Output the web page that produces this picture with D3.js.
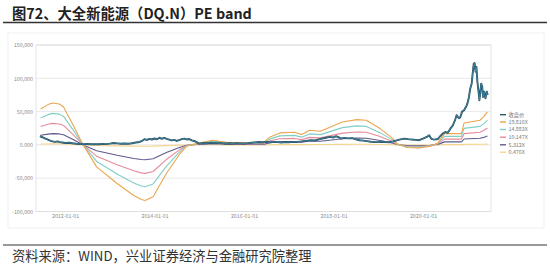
<!DOCTYPE html>
<html><head><meta charset="utf-8">
<script src="https://cdn.jsdelivr.net/npm/d3@7"></script>
<style>
html,body{margin:0;padding:0;background:#fff;}
svg{display:block;}
</style></head>
<body>
<svg id="c" width="550" height="267"></svg>
<script>
const titleText = "图72、大全新能源（DQ.N）PE band";
const sourceText = "资料来源：WIND，兴业证券经济与金融研究院整理";
const xTickDates = ["2012-01-01","2014-01-01","2016-01-01","2018-01-01","2020-01-01"];
const yTickValues = [150000,100000,50000,0,-50000,-100000];
const yTickLabels = ["150,000","100,000","50,000","0.000","-50,000","-100,000"];
const seriesNames = ["收盘价","19.816X","14.883X","10.147X","5.312X","0.476X"];
const seriesColors = ["#34758f","#eba64e","#7fcfc6","#e58b9b","#5e5b8d","#f4d58c"];

const bandDates = ["2011-06-15","2011-08-15","2011-09-20","2011-11-15","2011-12-20","2012-03-15","2012-05-28","2012-09-15","2013-03-01","2013-07-15","2013-09-15","2013-10-15","2013-12-20","2014-04-07","2014-07-28","2014-09-20","2014-12-10","2015-04-20","2015-08-15","2016-01-15","2016-06-15","2016-08-01","2016-10-20","2017-02-15","2017-04-15","2017-06-20","2017-09-15","2018-03-15","2018-07-10","2018-09-25","2019-01-15","2019-05-01","2019-06-01","2019-08-20","2019-12-01","2020-03-01","2020-05-01","2020-06-25","2020-11-10","2020-12-01","2021-04-10","2021-05-10","2021-06-10"];
const band19816 = [54000,60500,63000,61500,57000,27000,0,-33000,-58000,-76000,-82000,-83500,-78000,-43000,-13000,-2000,2000,7000,4000,3000,4400,12000,18000,19000,15500,22000,20500,34500,38000,37000,24500,9500,2000,-4000,-4500,-2000,3000,17000,17000,33000,37000,42000,49600];
const band14883 = [40560,45440,47320,46190,42810,20280,0,-24790,-43560,-57080,-61590,-62720,-58590,-32300,-9760,-1500,1500,5260,3000,2250,3300,9010,13520,14270,11640,16520,15400,25910,28540,27790,18400,7140,1500,-3000,-3380,-1500,2250,12770,12770,24790,27790,31550,37250];
const band10147 = [27650,30980,32260,31490,29190,13830,0,-16900,-29700,-38920,-41990,-42760,-39940,-22020,-6660,-1020,1020,3580,2050,1540,2250,6150,9220,9730,7940,11270,10500,17670,19460,18950,12550,4860,1020,-2050,-2300,-1020,1540,8710,8710,16900,18950,21510,25400];
const band5312 = [14480,16220,16890,16490,15280,7240,0,-8850,-15550,-20380,-21980,-22390,-20910,-11530,-3490,-540,540,1880,1070,800,1180,3220,4830,5090,4160,5900,5500,9250,10190,9920,6570,2550,540,-1070,-1210,-540,800,4560,4560,8850,9920,11260,13300];
const band0476 = [1300,1450,1510,1480,1370,650,0,-790,-1390,-1830,-1970,-2010,-1870,-1030,-310,-50,50,170,100,70,110,290,430,460,370,530,490,830,910,890,590,230,50,-100,-110,-50,70,410,410,790,890,1010,1190];

const priceDates = ["2011-06-10","2011-07-01","2011-07-20","2011-08-10","2011-09-01","2011-09-20","2011-10-10","2011-11-01","2011-11-20","2011-12-10","2012-01-01","2012-02-01","2012-03-01","2012-04-01","2012-05-01","2012-06-01","2012-07-01","2012-08-01","2012-09-01","2012-10-01","2012-11-01","2012-12-01","2013-01-01","2013-02-01","2013-03-01","2013-04-01","2013-05-01","2013-06-01","2013-07-01","2013-08-01","2013-09-01","2013-09-20","2013-10-10","2013-11-01","2013-11-20","2013-12-10","2014-01-01","2014-01-20","2014-02-10","2014-03-01","2014-03-20","2014-04-10","2014-05-01","2014-05-20","2014-06-10","2014-07-01","2014-07-20","2014-08-10","2014-09-01","2014-09-20","2014-10-10","2014-11-01","2014-11-20","2014-12-10","2015-01-01","2015-02-01","2015-03-01","2015-04-01","2015-05-01","2015-06-01","2015-07-01","2015-08-01","2015-09-01","2015-10-01","2015-11-01","2015-12-01","2016-01-01","2016-02-01","2016-03-01","2016-04-01","2016-05-01","2016-06-01","2016-07-01","2016-08-01","2016-09-01","2016-10-01","2016-11-01","2016-12-01","2017-01-01","2017-02-01","2017-03-01","2017-04-01","2017-05-01","2017-06-01","2017-07-01","2017-08-01","2017-09-01","2017-10-01","2017-11-01","2017-12-01","2018-01-01","2018-01-20","2018-02-10","2018-03-01","2018-04-01","2018-05-01","2018-06-01","2018-07-01","2018-08-01","2018-09-01","2018-10-01","2018-11-01","2018-12-01","2019-01-01","2019-02-01","2019-03-01","2019-04-01","2019-05-01","2019-06-01","2019-07-01","2019-08-01","2019-09-01","2019-10-01","2019-11-01","2019-12-01","2020-01-01","2020-02-01","2020-02-20","2020-03-10","2020-04-01","2020-05-01","2020-05-20","2020-06-10","2020-07-01","2020-07-20","2020-08-10","2020-09-01","2020-09-20","2020-10-01","2020-10-20","2020-11-01","2020-11-15","2020-12-01","2020-12-20","2021-01-01","2021-01-10","2021-01-20","2021-02-01","2021-02-10","2021-02-18","2021-02-25","2021-03-05","2021-03-12","2021-03-20","2021-03-28","2021-04-05","2021-04-12","2021-04-20","2021-04-28","2021-05-05","2021-05-15","2021-05-25","2021-06-05","2021-06-12"];
const priceValues = [13000,11500,9800,8200,6500,5200,4600,5200,4100,3600,2900,3300,2400,1800,1400,1100,1300,900,1200,1000,1400,1200,1900,2900,2300,1700,2100,1800,2500,3600,4400,5900,8600,7400,9000,8100,9600,8400,10800,9200,10400,9000,8000,6800,7500,5900,7200,8600,9500,8200,8800,6800,5900,4200,2000,2800,2400,3300,2800,3500,2600,2200,2500,2000,2600,2300,2000,2600,3300,3800,4400,3900,4500,4000,4600,4100,3700,4300,4000,4600,4200,4900,5600,6400,7200,6600,8400,9600,10800,12000,11200,13000,11600,9600,10600,9800,10200,8400,7000,6400,5600,4800,4400,4200,4800,4300,4000,5200,6800,8200,9500,8600,8000,7600,7000,9400,12000,14500,9000,8000,8800,13000,17000,19400,18000,24000,29500,38000,44600,40000,42000,50000,52000,58000,64600,72000,84000,92000,108000,122000,123000,110000,117000,95000,82000,67000,78000,92000,88000,72000,80000,70000,80000,75000];

const parse = d3.timeParse("%Y-%m-%d");
const svg = d3.select("#c");
const font = "'Noto Sans CJK SC','Noto Sans',sans-serif";

// title
const t = svg.append("text").attr("x",12).attr("y",18.5)
  .attr("font-family",font).attr("font-weight","bold").attr("font-size",14)
  .attr("fill","#222").text(titleText);
let tw = t.node().getComputedTextLength();
t.attr("font-size", 14*240/tw);
svg.append("line").attr("x1",3).attr("x2",547).attr("y1",22.5).attr("y2",22.5)
  .attr("stroke","#333").attr("stroke-width",1.5);

// panel faint border
svg.append("rect").attr("x",8).attr("y",33).attr("width",536).attr("height",195)
  .attr("fill","none").attr("stroke","#f1f1f1");

const x = d3.scaleTime().domain([new Date(2011,4,9), new Date(2021,6,9)]).range([36,491]);
const y = d3.scaleLinear().domain([-100000,150000]).range([211.5,45]);

// grid
svg.append("g").selectAll("line").data(yTickValues).join("line")
  .attr("x1",36).attr("x2",491).attr("y1",d=>y(d)).attr("y2",d=>y(d))
  .attr("stroke","#e2e2e2").attr("stroke-width",0.8);
svg.append("rect").attr("x",36).attr("y",45).attr("width",455).attr("height",166.5)
  .attr("fill","none").attr("stroke","#dcdcdc").attr("stroke-width",0.8);

// y axis labels
const yAxis = d3.axisLeft(y).tickValues(yTickValues).tickSize(0).tickPadding(3)
  .tickFormat((d,i)=>yTickLabels[i]);
const gy = svg.append("g").attr("transform","translate(36,0)").call(yAxis);
gy.select(".domain").remove();
gy.selectAll("text").attr("font-family",font).attr("font-size",5.3).attr("fill","#8a8a8a");

// x axis labels
const xAxis = d3.axisBottom(x).tickValues(xTickDates.map(parse)).tickSize(0).tickPadding(3)
  .tickFormat(d3.timeFormat("%Y-%m-%d"));
const gx = svg.append("g").attr("transform","translate(0,211.5)").call(xAxis);
gx.select(".domain").remove();
gx.selectAll("text").attr("font-family",font).attr("font-size",5.3).attr("fill","#8a8a8a");

// bands
const bands = [band19816, band14883, band10147, band5312, band0476];
const bd = bandDates.map(parse);
const line = d3.line().x(d=>x(d[0])).y(d=>y(d[1]));
const order = [4,3,2,1,0];
order.forEach(k=>{
  const data = bd.map((d,i)=>[d,bands[k][i]]);
  svg.append("path").attr("d",line(data)).attr("fill","none")
    .attr("stroke",seriesColors[k+1]).attr("stroke-width",1.1).attr("stroke-linejoin","round");
});

// price
const pd = priceDates.map((d,i)=>[parse(d),priceValues[i]]);
svg.append("path").attr("d",line(pd)).attr("fill","none")
  .attr("stroke","#24485c").attr("stroke-width",1.9).attr("stroke-linejoin","round");
svg.append("path").attr("d",line(pd)).attr("fill","none")
  .attr("stroke","#4b9bb3").attr("stroke-width",0.7).attr("stroke-linejoin","round");

// legend
const legY = [114.7,122,129.5,137.2,144.8,152.2];
const lg = svg.append("g");
seriesNames.forEach((n,i)=>{
  lg.append("line").attr("x1",500).attr("x2",506).attr("y1",legY[i]).attr("y2",legY[i])
    .attr("stroke", i===0 ? "#2e5a70" : seriesColors[i]).attr("stroke-width",1.4);
  lg.append("text").attr("x",508.5).attr("y",legY[i]+1.9).attr("font-family",font)
    .attr("font-size",5.3).attr("fill","#777").text(n);
});

// footer
svg.append("line").attr("x1",3).attr("x2",547).attr("y1",245).attr("y2",245)
  .attr("stroke","#333").attr("stroke-width",1);
const s = svg.append("text").attr("x",12).attr("y",261).attr("font-family",font)
  .attr("font-size",12).attr("fill","#333").text(sourceText);
let sw = s.node().getComputedTextLength();
s.attr("font-size", 12*300/sw);
</script>
</body></html>
